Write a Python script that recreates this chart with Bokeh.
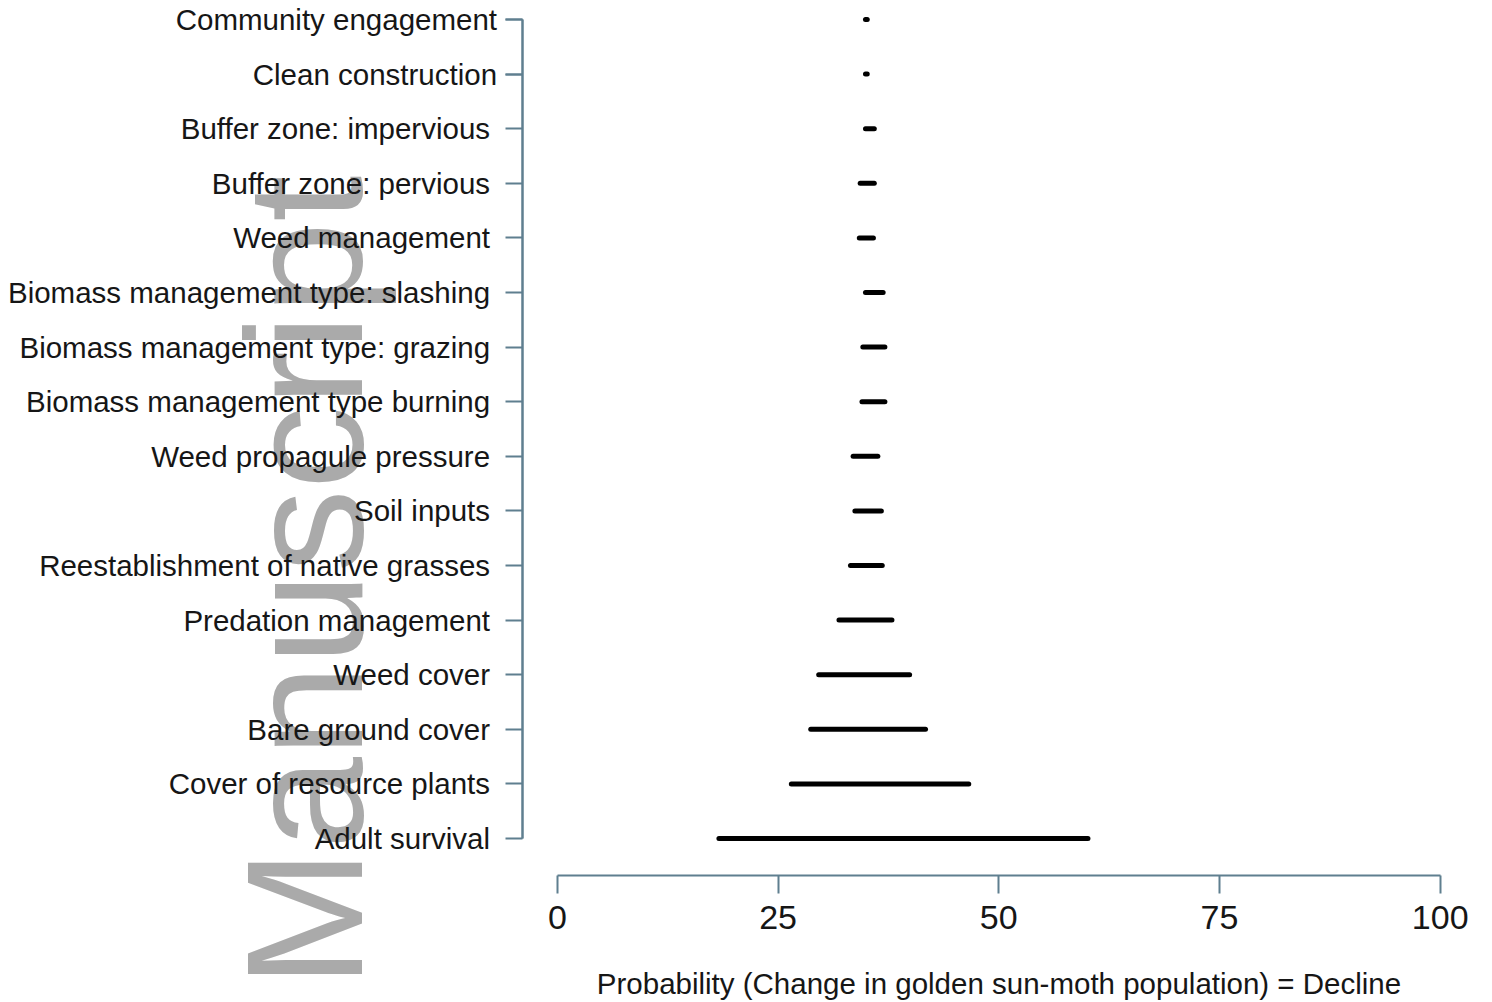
import math
from bokeh.plotting import figure
from bokeh.models import ColumnDataSource, Range1d, FixedTicker, Label, LinearAxis
from bokeh.embed import file_html
from bokeh.resources import INLINE

# ---- data (top to bottom as shown) ----
categories = [
    "Community engagement",
    "Clean construction",
    "Buffer zone: impervious",
    "Buffer zone: pervious",
    "Weed management",
    "Biomass management type: slashing",
    "Biomass management type: grazing",
    "Biomass management type burning",
    "Weed propagule pressure",
    "Soil inputs",
    "Reestablishment of native grasses",
    "Predation management",
    "Weed cover",
    "Bare ground cover",
    "Cover of resource plants",
    "Adult survival",
]
low = [34.9, 34.9, 34.9, 34.3, 34.2, 34.9, 34.6, 34.5, 33.5, 33.7, 33.2, 31.9, 29.6, 28.7, 26.5, 18.3]
high = [35.1, 35.1, 35.9, 35.9, 35.8, 36.9, 37.1, 37.1, 36.3, 36.7, 36.8, 37.9, 39.9, 41.7, 46.6, 60.1]
x_ticks = [0, 25, 50, 75, 100]
x_title = "Probability (Change in golden sun-moth population) = Decline"
watermark = "Manuscript"
n_top_group = 2   # the two top labels sit slightly closer to the axis in the original

n = len(categories)
ypos = [n - i for i in range(n)]
src = ColumnDataSource(dict(cat=categories, y=ypos, lo=low, hi=high))

FONT = "Liberation Sans"
AXIS_COL = "#5f7f8f"
TXT = "#161616"

# the plotting frame covers the whole canvas; both axes sit at fixed data locations
Y_AXIS_AT = -4.0      # x position of the vertical axis line
X_AXIS_AT = 0.3223    # y position of the horizontal axis line

p = figure(width=1492, height=1002, output_backend="svg", toolbar_location=None,
           x_range=Range1d(-63.08, 104), y_range=Range1d(-2.0037, 16.348),
           min_border_left=0, min_border_right=17, min_border_top=0,
           min_border_bottom=0)
p.outline_line_color = None
p.xgrid.grid_line_color = None
p.ygrid.grid_line_color = None
p.background_fill_color = "white"
p.border_fill_color = "white"

# watermark behind everything
p.add_layout(Label(x=-28.65, y=-1.73, text=watermark, angle=math.pi / 2,
                   text_font=FONT, text_font_size="166px", text_color="#aaaaaa",
                   text_align="left", text_baseline="alphabetic", level="underlay"))

p.segment(x0="lo", y0="y", x1="hi", y1="y", source=src, line_color="black",
          line_width=5, line_cap="round")

# x axis
xa = p.xaxis[0]
xa.fixed_location = X_AXIS_AT
xa.ticker = FixedTicker(ticks=x_ticks)
xa.bounds = (x_ticks[0], x_ticks[-1])
xa.axis_line_color = AXIS_COL
xa.axis_line_width = 2
xa.major_tick_line_color = AXIS_COL
xa.major_tick_line_width = 2
xa.major_tick_out = 18
xa.major_tick_in = 0
xa.minor_tick_line_color = None
xa.major_label_text_font = FONT
xa.major_label_text_font_size = "34px"
xa.major_label_text_color = TXT
xa.major_label_standoff = 12
xa.axis_label = x_title
xa.axis_label_text_font = FONT
xa.axis_label_text_font_size = "29.5px"
xa.axis_label_text_font_style = "normal"
xa.axis_label_text_color = TXT
xa.axis_label_standoff = 35


def style_y(ax, standoff):
    ax.fixed_location = Y_AXIS_AT
    ax.bounds = (min(ypos), max(ypos))
    ax.axis_line_color = AXIS_COL
    ax.axis_line_width = 2
    ax.major_tick_line_color = AXIS_COL
    ax.major_tick_line_width = 2
    ax.major_tick_out = 17
    ax.major_tick_in = 0
    ax.minor_tick_line_color = None
    ax.major_label_text_font = FONT
    ax.major_label_text_font_size = "29.5px"
    ax.major_label_text_color = TXT
    ax.major_label_standoff = standoff


# main y axis: all ticks, labels for the lower group
ya = p.yaxis[0]
ya.ticker = FixedTicker(ticks=ypos)
ya.major_label_overrides = {y: (c if i >= n_top_group else "")
                            for i, (y, c) in enumerate(zip(ypos, categories))}
style_y(ya, 15)

# second y axis at the same place: labels of the top group
ya2 = LinearAxis(ticker=FixedTicker(ticks=ypos[:n_top_group]),
                 major_label_overrides={y: c for y, c in zip(ypos[:n_top_group],
                                                            categories[:n_top_group])})
style_y(ya2, 8)
p.add_layout(ya2, "left")

open("out.html", "w").write(file_html(p, INLINE))
